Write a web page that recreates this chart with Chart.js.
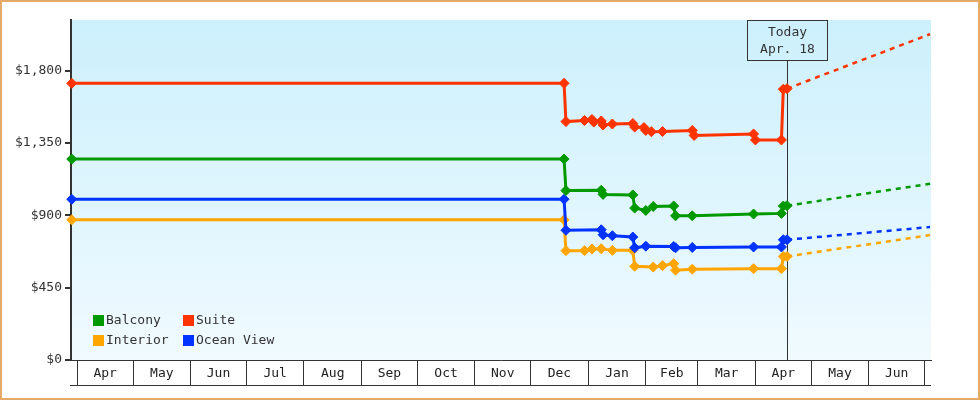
<!DOCTYPE html>
<html>
<head>
<meta charset="utf-8">
<script src="https://cdn.jsdelivr.net/npm/chart.js@4.4.0/dist/chart.umd.min.js"></script>
<style>
body { margin: 0; background: #fff; }
#wrap { width: 980px; height: 400px; }
</style>
</head>
<body>
<div id="wrap"><canvas id="price-chart" width="980" height="400"></canvas></div>
<script>
// month cells along the bottom, Apr 2024 .. Jun 2025
const monthLabels = ['Apr','May','Jun','Jul','Aug','Sep','Oct','Nov','Dec','Jan','Feb','Mar','Apr','May','Jun'];
const yTicks = [0, 450, 900, 1350, 1800];

// observed prices (stepped changes)
const balconyDates = ['2024-03-29','2024-12-19','2024-12-20','2025-01-08','2025-01-09','2025-01-25','2025-01-26','2025-02-01','2025-02-05','2025-02-16','2025-02-17','2025-02-26','2025-03-31','2025-04-15','2025-04-16','2025-04-18'];
const balconyPrices = [1250,1250,1054,1056,1030,1027,945,930,955,958,897,897,908,912,958,960];

const suiteDates = ['2024-03-29','2024-12-19','2024-12-20','2024-12-30','2025-01-03','2025-01-04','2025-01-08','2025-01-09','2025-01-14','2025-01-25','2025-01-26','2025-01-31','2025-02-01','2025-02-04','2025-02-10','2025-02-26','2025-02-27','2025-03-31','2025-04-01','2025-04-15','2025-04-16','2025-04-18'];
const suitePrices = [1721,1721,1483,1490,1496,1480,1487,1462,1468,1471,1449,1446,1428,1420,1421,1428,1397,1406,1369,1369,1685,1688];

const interiorDates = ['2024-03-29','2024-12-19','2024-12-20','2024-12-30','2025-01-03','2025-01-08','2025-01-14','2025-01-25','2025-01-26','2025-02-05','2025-02-10','2025-02-16','2025-02-17','2025-02-26','2025-03-31','2025-04-15','2025-04-16','2025-04-18'];
const interiorPrices = [872,872,680,680,690,692,682,682,583,578,587,599,559,565,568,568,644,644];

const oceanDates = ['2024-03-29','2024-12-19','2024-12-20','2025-01-08','2025-01-09','2025-01-14','2025-01-25','2025-01-26','2025-02-01','2025-02-16','2025-02-17','2025-02-26','2025-03-31','2025-04-15','2025-04-16','2025-04-18'];
const oceanPrices = [1000,1000,807,810,779,773,765,698,708,706,698,700,703,703,748,748];

// dashed forecast from today to the end of the chart
const forecastDates = ['2025-04-18','2025-07-04'];
const balconyForecast = [960, 1096];
const suiteForecast = [1688, 2027];
const interiorForecast = [644, 777];
const oceanForecast = [748, 827];

const todayDate = '2025-04-18';
const todayLabel = ['Today', 'Apr. 18'];
const legendOrder = ['Balcony', 'Suite', 'Interior', 'Ocean View'];

const colors = {
    'Balcony': '#009900',
    'Suite': '#ff3300',
    'Interior': '#ffa500',
    'Ocean View': '#0033ff'
};

const FONT = '"DejaVu Sans Mono", monospace';
const DAY0 = Date.parse('2024-04-01');

function dayOf(str) {
    return (Date.parse(str) - DAY0) / 86400000;
}

function toPoints(dates, values) {
    return dates.map(function (d, i) { return { x: dayOf(d), y: values[i] }; });
}

// month boundaries and the middle of each month (labels sit in the middle)
var monthTicks = [];
for (var i = 0; i <= monthLabels.length; i++) {
    var start = (Date.UTC(2024, 3 + i, 1) - DAY0) / 86400000;
    monthTicks.push(start);
    if (i < monthLabels.length) {
        var next = (Date.UTC(2024, 4 + i, 1) - DAY0) / 86400000;
        monthTicks.push((start + next) / 2);
    }
}

function priceSet(label, dates, values) {
    return {
        label: label,
        data: toPoints(dates, values),
        borderColor: colors[label],
        backgroundColor: colors[label],
        borderWidth: 3,
        pointStyle: 'rectRot',
        pointRadius: 5,
        pointBorderWidth: 1,
        pointBackgroundColor: colors[label],
        pointBorderColor: colors[label],
        tension: 0,
        clip: false
    };
}

function forecastSet(label, values) {
    return {
        label: label + ' forecast',
        data: toPoints(forecastDates, values),
        borderColor: colors[label],
        borderWidth: 2.5,
        borderDash: [5, 5],
        pointRadius: 0,
        tension: 0
    };
}

const backgroundPlugin = {
    id: 'background',
    beforeDraw: function (chart) {
        const ctx = chart.ctx;
        const a = chart.chartArea;
        ctx.save();
        var grad = ctx.createLinearGradient(0, a.top, 0, a.bottom);
        grad.addColorStop(0, '#ccf0fc');
        grad.addColorStop(1, '#f0faff');
        ctx.fillStyle = grad;
        ctx.fillRect(a.left, a.top, a.right - a.left, a.bottom - a.top);
        ctx.strokeStyle = '#e6a968';
        ctx.lineWidth = 2;
        ctx.strokeRect(1, 1, chart.width - 2, chart.height - 2);
        ctx.restore();
    },
    beforeDatasetsDraw: function (chart) {
        // today marker line (behind the lines)
        const ctx = chart.ctx;
        const a = chart.chartArea;
        const x = Math.round(chart.scales.x.getPixelForValue(dayOf(todayDate))) + 0.5;
        ctx.save();
        ctx.strokeStyle = '#333';
        ctx.lineWidth = 1;
        ctx.beginPath();
        ctx.moveTo(x, a.top + 41);
        ctx.lineTo(x, a.bottom);
        ctx.stroke();
        ctx.restore();
    },
    afterDraw: function (chart) {
        const ctx = chart.ctx;
        const a = chart.chartArea;
        const xs = chart.scales.x;
        ctx.save();
        // line closing the month cells
        ctx.strokeStyle = '#333';
        ctx.lineWidth = 1;
        ctx.beginPath();
        ctx.moveTo(a.left - 1, a.bottom + 25.5);
        ctx.lineTo(a.right, a.bottom + 25.5);
        ctx.stroke();

        // today box
        const x = Math.round(xs.getPixelForValue(dayOf(todayDate))) + 0.5;
        ctx.strokeRect(x - 40, a.top + 0.5, 80, 40);
        ctx.fillStyle = '#333';
        ctx.font = '13px ' + FONT;
        ctx.textAlign = 'center';
        ctx.textBaseline = 'middle';
        ctx.fillText(todayLabel[0], x, a.top + 13);
        ctx.fillText(todayLabel[1], x, a.top + 30);

        // legend, two columns in the lower left of the plot
        ctx.textAlign = 'left';
        for (var i = 0; i < legendOrder.length; i++) {
            var col = i % 2;
            var row = Math.floor(i / 2);
            var lx = a.left + 22 + col * 90;
            var ly = a.top + 295 + row * 20;
            ctx.fillStyle = colors[legendOrder[i]];
            ctx.fillRect(lx, ly, 11, 11);
            ctx.fillStyle = '#333';
            ctx.fillText(legendOrder[i], lx + 13, ly + 6);
        }
        ctx.restore();
    }
};

const config = {
    type: 'line',
    data: {
        datasets: [
            priceSet('Suite', suiteDates, suitePrices),
            priceSet('Balcony', balconyDates, balconyPrices),
            priceSet('Ocean View', oceanDates, oceanPrices),
            priceSet('Interior', interiorDates, interiorPrices),
            forecastSet('Suite', suiteForecast),
            forecastSet('Balcony', balconyForecast),
            forecastSet('Ocean View', oceanForecast),
            forecastSet('Interior', interiorForecast)
        ]
    },
    options: {
        responsive: false,
        animation: false,
        layout: { padding: { top: 20, right: 49, left: 0, bottom: 0 } },
        plugins: {
            legend: { display: false },
            tooltip: { enabled: false }
        },
        scales: {
            x: {
                type: 'linear',
                min: -3.4,
                max: 459.5,
                afterFit: function (s) { s.height = 40; },
                afterBuildTicks: function (s) {
                    s.ticks = monthTicks.map(function (v) { return { value: v }; });
                },
                grid: {
                    drawOnChartArea: false,
                    tickLength: 25,
                    lineWidth: 1,
                    color: function (c) { return c.index % 2 === 0 ? '#333' : 'rgba(0,0,0,0)'; }
                },
                border: { display: true, color: '#333', width: 1 },
                ticks: {
                    autoSkip: false,
                    maxRotation: 0,
                    minRotation: 0,
                    padding: -19,
                    color: '#222',
                    font: { family: FONT, size: 13 },
                    callback: function (v, i) { return i % 2 ? monthLabels[(i - 1) / 2] : ''; }
                }
            },
            y: {
                min: 0,
                max: 2115,
                afterFit: function (s) { s.width = 71; },
                afterBuildTicks: function (s) {
                    s.ticks = yTicks.map(function (v) { return { value: v }; });
                },
                grid: {
                    drawOnChartArea: false,
                    tickLength: 6,
                    lineWidth: 2,
                    color: '#333'
                },
                border: { display: true, color: '#333', width: 2 },
                ticks: {
                    padding: 3,
                    color: '#333',
                    font: { family: FONT, size: 13 },
                    callback: function (v) { return '$' + v.toLocaleString('en-US'); }
                }
            }
        }
    },
    plugins: [backgroundPlugin]
};

const priceChart = new Chart(document.getElementById('price-chart'), config);
</script>
</body>
</html>
